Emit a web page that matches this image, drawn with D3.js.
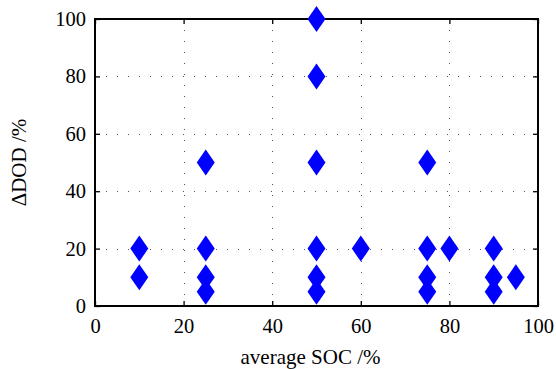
<!DOCTYPE html>
<html>
<head>
<meta charset="utf-8">
<script src="https://cdn.jsdelivr.net/npm/d3@7"></script>
<style>
  html, body { margin: 0; padding: 0; background: #fff; }
  svg { display: block; }
</style>
</head>
<body>
<svg id="chart" width="556" height="369"></svg>
<script>
// Cycling test points: average state of charge vs. depth-of-discharge swing
const socValues = [10, 10, 25, 25, 25, 25, 50, 50, 50, 50, 50, 50, 60, 75, 75, 75, 75, 80, 90, 90, 90, 95];
const dodValues = [20, 10, 50, 20, 10, 5, 100, 80, 50, 20, 10, 5, 20, 50, 20, 10, 5, 20, 20, 10, 5, 10];
const xTicks = [0, 20, 40, 60, 80, 100];
const yTicks = [0, 20, 40, 60, 80, 100];

const FONT = "'Liberation Serif', 'Times New Roman', Times, serif";

const svg = d3.select("#chart");
const margin = { left: 95, right: 18, top: 19, bottom: 63 };
const W = 556, H = 369;
const x = d3.scaleLinear().domain([0, 100]).range([margin.left, W - margin.right]);
const y = d3.scaleLinear().domain([0, 100]).range([H - margin.bottom, margin.top]);

// dotted grid
const grid = svg.append("g").attr("stroke", "#555").attr("stroke-width", 1)
  .attr("stroke-dasharray", "1,10");
grid.selectAll("line.v").data(xTicks.slice(1, -1)).join("line")
  .attr("x1", d => Math.round(x(d)) + 0.5).attr("x2", d => Math.round(x(d)) + 0.5)
  .attr("y1", y(0)).attr("y2", y(100));
grid.selectAll("line.h").data(yTicks.slice(1, -1)).join("line")
  .attr("y1", d => Math.round(y(d)) + 0.5).attr("y2", d => Math.round(y(d)) + 0.5)
  .attr("x1", x(0)).attr("x2", x(100));

// axes with inward ticks on all four sides
const fmt = d3.format("d");
const axB = svg.append("g").attr("transform", `translate(0,${y(0)})`)
  .call(d3.axisBottom(x).tickValues(xTicks).tickFormat(fmt).tickSizeInner(-5).tickSizeOuter(0).tickPadding(12));
const axT = svg.append("g").attr("transform", `translate(0,${y(100)})`)
  .call(d3.axisTop(x).tickValues(xTicks).tickFormat("").tickSizeInner(-5).tickSizeOuter(0));
const axL = svg.append("g").attr("transform", `translate(${x(0)},0)`)
  .call(d3.axisLeft(y).tickValues(yTicks).tickFormat(fmt).tickSizeInner(-5).tickSizeOuter(0).tickPadding(9));
const axR = svg.append("g").attr("transform", `translate(${x(100)},0)`)
  .call(d3.axisRight(y).tickValues(yTicks).tickFormat("").tickSizeInner(-5).tickSizeOuter(0));
[axB, axT, axL, axR].forEach(a => {
  a.attr("font-family", null).attr("font-size", null);
  a.select(".domain").remove();
  a.selectAll(".tick line").attr("stroke", "#000").attr("stroke-width", 1.3);
  a.selectAll(".tick text").style("font-family", FONT).style("font-size", "20.5px").attr("fill", "#000");
});

// frame
svg.append("rect")
  .attr("x", x(0)).attr("y", y(100))
  .attr("width", x(100) - x(0)).attr("height", y(0) - y(100))
  .attr("fill", "none").attr("stroke", "#000").attr("stroke-width", 2);

// diamond markers
const hw = 9, hh = 13;
svg.append("g").selectAll("path").data(socValues.map((s, i) => ({ s, d: dodValues[i] }))).join("path")
  .attr("d", p => {
    const cx = x(p.s), cy = y(p.d);
    return `M${cx},${cy - hh}L${cx + hw},${cy}L${cx},${cy + hh}L${cx - hw},${cy}Z`;
  })
  .attr("fill", "#0000ff");

// axis titles
svg.append("text").attr("x", (x(0) + x(100)) / 2 - 6).attr("y", 364)
  .attr("text-anchor", "middle").style("font-family", FONT).style("font-size", "21px").text("average SOC /%");
svg.append("text").attr("transform", `translate(26,${(y(0) + y(100)) / 2}) rotate(-90)`)
  .attr("text-anchor", "middle").style("font-family", FONT).style("font-size", "21px").text("ΔDOD /%");
</script>
</body>
</html>
